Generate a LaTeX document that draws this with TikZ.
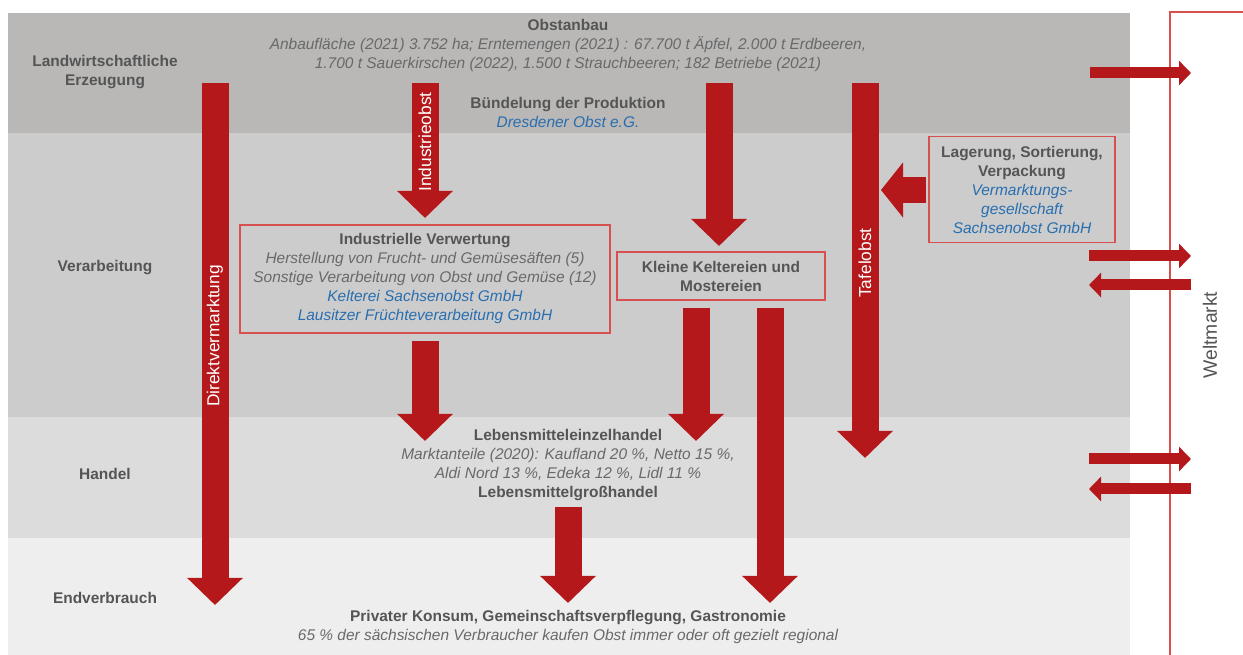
\documentclass[tikz,border=0pt]{standalone}
\usepackage{fontspec}
\setmainfont{Liberation Sans}
\usetikzlibrary{arrows.meta}
\definecolor{bandA}{RGB}{185,184,183}
\definecolor{bandB}{RGB}{205,204,204}
\definecolor{bandC}{RGB}{220,220,220}
\definecolor{bandD}{RGB}{238,238,238}
\definecolor{arrowred}{RGB}{180,24,26}
\definecolor{boxred}{RGB}{215,80,78}
\definecolor{txtgray}{RGB}{85,85,85}
\definecolor{itgray}{RGB}{105,105,105}
\definecolor{txtblue}{RGB}{40,110,175}
\tikzset{
  lbl/.style={font=\fontsize{11.6}{14.25}\selectfont\bfseries, text=txtgray, align=center, inner sep=0pt},
  info/.style={font=\fontsize{11.6}{14.25}\selectfont, text=txtgray, align=center, inner sep=0pt},
  redbox/.style={draw=boxred, line width=0.9pt, font=\fontsize{11.6}{14.25}\selectfont, text=txtgray, align=center, inner sep=0pt},
  bigarrow/.style={draw=arrowred, line width=20.25pt, -{Triangle[width=40.5pt,length=20.25pt]}},
  sidearrow/.style={draw=arrowred, line width=19.5pt, -{Triangle[width=40.5pt,length=16.5pt]}},
  smallarrow/.style={draw=arrowred, line width=8.25pt, -{Triangle[width=18pt,length=9pt]}},
  arrowtext/.style={font=\fontsize{13}{15}\selectfont, text=white, rotate=90, inner sep=0pt}
}
\newcommand{\itg}[1]{{\itshape\color{itgray}#1}}
\newcommand{\blu}[1]{{\itshape\color{txtblue}#1}}
\begin{document}
\begin{tikzpicture}[x=0.75pt,y=-0.75pt]
\useasboundingbox (0,0) rectangle (1243,655);
\fill[white] (0,0) rectangle (1243,655);
% bands
\fill[bandA] (8,13) rectangle (1130,133);
\fill[bandB] (8,133) rectangle (1130,417);
\fill[bandC] (8,417) rectangle (1130,538);
\fill[bandD] (8,538) rectangle (1130,655);
% Weltmarkt frame
\draw[boxred, line width=0.9pt] (1260,12) -- (1170,12) -- (1170,670);
\node[font=\fontsize{14.5}{16}\selectfont, text=txtgray, rotate=90, inner sep=0pt] (welt) at (1210,335) {Weltmarkt};
% row labels
\node[lbl] (rowA) at (105,72) {Landwirtschaftliche\\Erzeugung};
\node[lbl] (rowB) at (105,268) {Verarbeitung};
\node[lbl] (rowC) at (105,474) {Handel};
\node[lbl] (rowD) at (105,598) {Endverbrauch};
% texts
\node[info] (obst) at (568,46) {\textbf{Obstanbau}\\
 \itg{Anbaufläche (2021) 3.752 ha; Erntemengen (2021) : 67.700 t Äpfel, 2.000 t Erdbeeren,}\\
 \itg{1.700 t Sauerkirschen (2022), 1.500 t Strauchbeeren; 182 Betriebe (2021)}};
\node[info] (buendel) at (568,112) {\textbf{Bündelung der Produktion}\\ \blu{Dresdener Obst e.G.}};
\node[redbox, minimum width=277.5pt, minimum height=81pt] (indust) at (425,279) {\textbf{Industrielle Verwertung}\\
 \itg{Herstellung von Frucht- und Gemüsesäften (5)}\\
 \itg{Sonstige Verarbeitung von Obst und Gemüse (12)}\\
 \blu{Kelterei Sachsenobst GmbH}\\
 \blu{Lausitzer Früchteverarbeitung GmbH}};
\node[redbox, minimum width=156pt, minimum height=36pt] (kleine) at (721,276) {\textbf{Kleine Keltereien und}\\ \textbf{Mostereien}};
\node[redbox, minimum width=139.5pt, minimum height=80pt] (lager) at (1022,189.5) {\textbf{Lagerung, Sortierung,}\\ \textbf{Verpackung}\\
 \blu{Vermarktungs-}\\ \blu{gesellschaft}\\ \blu{Sachsenobst GmbH}};
\node[info] (handel) at (568,465) {\textbf{Lebensmitteleinzelhandel}\\
 \itg{Marktanteile (2020): Kaufland 20 \%, Netto 15 \%,}\\
 \itg{Aldi Nord 13 \%, Edeka 12 \%, Lidl 11 \%}\\
 \textbf{Lebensmittelgroßhandel}};
\node[info] (konsum) at (568,627) {\textbf{Privater Konsum, Gemeinschaftsverpflegung, Gastronomie}\\
 \itg{65 \% der sächsischen Verbraucher kaufen Obst immer oder oft gezielt regional}};
% arrow end points
\coordinate (dvS) at (215,83);  \coordinate (dvE) at (215,605);
\coordinate (ioS) at (425,83);  \coordinate (ioE) at (425,218);
\coordinate (klS) at (719,83);  \coordinate (klE) at (719,246);
\coordinate (toS) at (865,83);  \coordinate (toE) at (865,458);
\coordinate (lgS) at (926,190); \coordinate (lgE) at (881,190);
\coordinate (ivS) at (425,341); \coordinate (ivE) at (425,441);
\coordinate (k1S) at (696,308); \coordinate (k1E) at (696,441);
\coordinate (k2S) at (770,308); \coordinate (k2E) at (770,603);
\coordinate (hdS) at (568,507); \coordinate (hdE) at (568,603);
% big arrows
\draw[bigarrow] (dvS) -- (dvE);
\draw[bigarrow] (ioS) -- (ioE);
\draw[bigarrow] (klS) -- (klE);
\draw[bigarrow] (toS) -- (toE);
\draw[sidearrow] (lgS) -- (lgE);
\draw[bigarrow] (ivS) -- (ivE);
\draw[bigarrow] (k1S) -- (k1E);
\draw[bigarrow] (k2S) -- (k2E);
\draw[bigarrow] (hdS) -- (hdE);
\node[arrowtext] (tdv) at (215,336) {Direktvermarktung};
\node[arrowtext] (tio) at (425,142) {Industrieobst};
\node[arrowtext] (tto) at (865,263) {Tafelobst};
% world market arrows
\coordinate (w1S) at (1090,73);  \coordinate (w1E) at (1191,73);
\coordinate (w2S) at (1089,256); \coordinate (w2E) at (1191,256);
\coordinate (w3S) at (1191,285); \coordinate (w3E) at (1089,285);
\coordinate (w4S) at (1089,459); \coordinate (w4E) at (1191,459);
\coordinate (w5S) at (1191,489); \coordinate (w5E) at (1089,489);
\draw[smallarrow] (w1S) -- (w1E);
\draw[smallarrow] (w2S) -- (w2E);
\draw[smallarrow] (w3S) -- (w3E);
\draw[smallarrow] (w4S) -- (w4E);
\draw[smallarrow] (w5S) -- (w5E);
\end{tikzpicture}
\end{document}
